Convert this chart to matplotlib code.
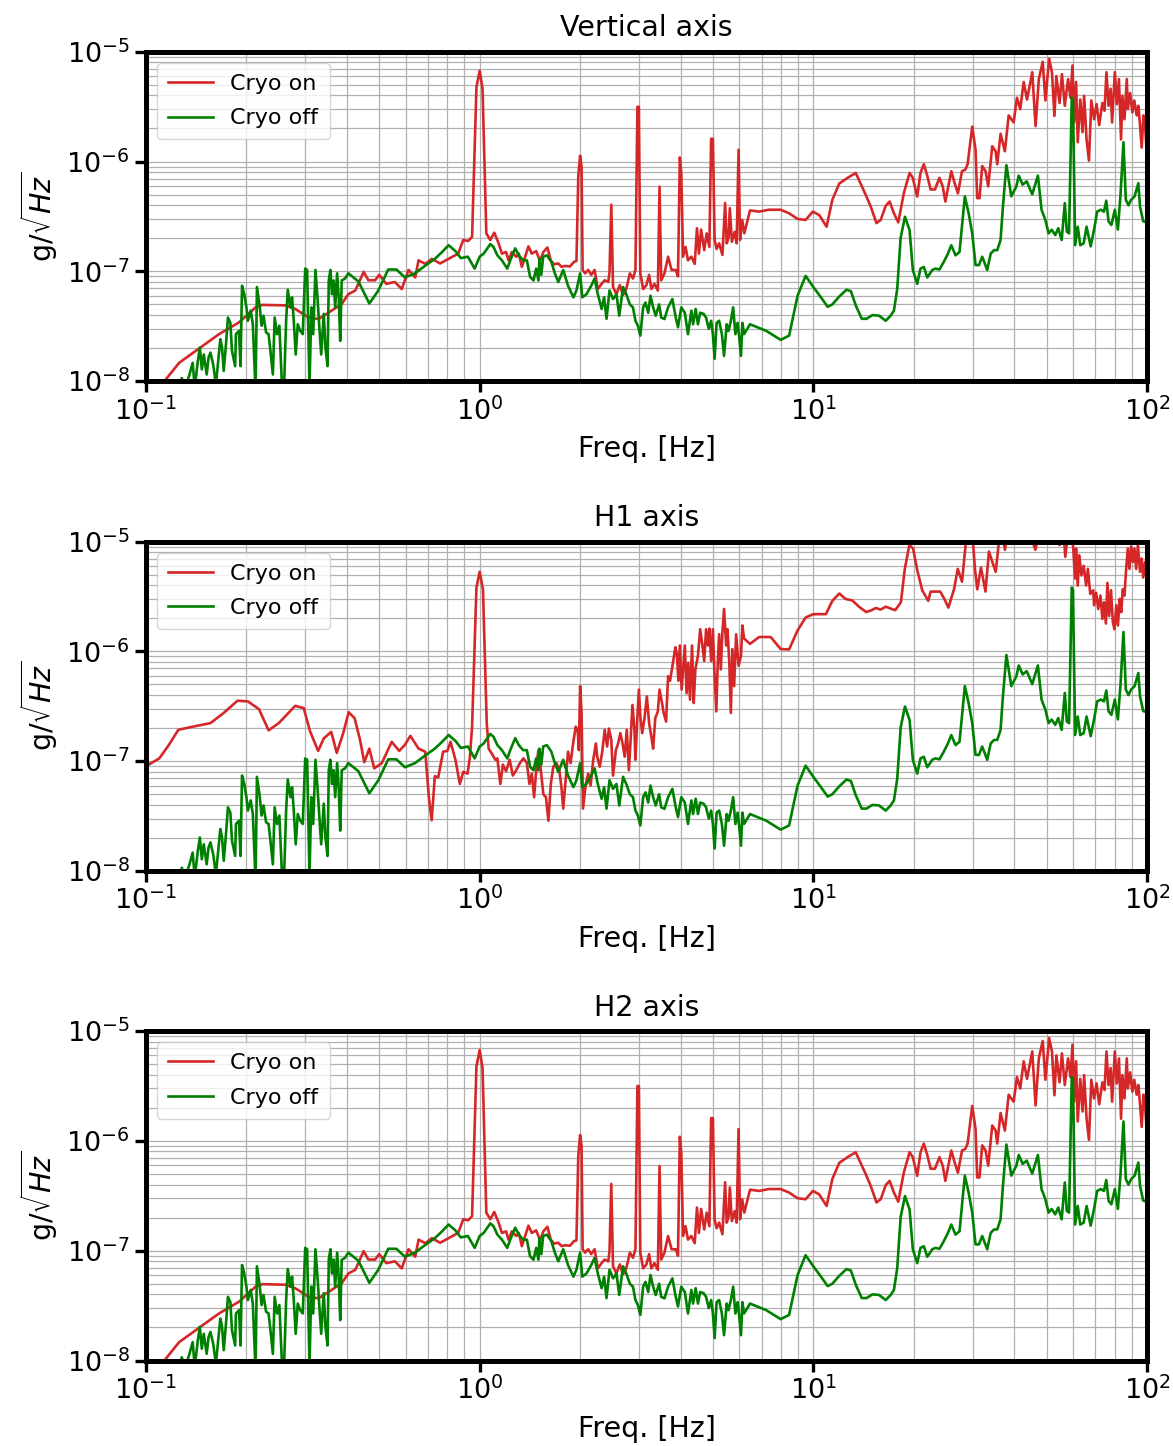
import matplotlib
matplotlib.use("Agg")
import matplotlib.pyplot as plt
import numpy as np

# amplitudes are given in units of 1e-8 g/sqrt(Hz)
AMP_UNIT = 1e-8

titles = ["Vertical axis", "H1 axis", "H2 axis"]
legend_labels = ["Cryo on", "Cryo off"]
x_label = "Freq. [Hz]"
y_label = r"g/$\sqrt{Hz}$"

# ---------------- Vertical axis, cryo on ----------------
vert_on_freq = [0.1, 0.1147, 0.1257, 0.1477, 0.1655, 0.19, 0.213, 0.223, 0.262, 0.28, 0.307, 0.329, 0.36, 0.386,
                0.404, 0.424, 0.449, 0.464, 0.486, 0.50, 0.525, 0.557, 0.584, 0.612, 0.641, 0.656, 0.687, 0.719,
                0.761, 0.807, 0.862, 0.893, 0.923, 0.949, 0.978, 1.0, 1.02, 1.047, 1.076, 1.106, 1.14, 1.166, 1.2,
                1.22, 1.249, 1.287, 1.31, 1.338, 1.369, 1.4, 1.433, 1.477, 1.517, 1.552, 1.596, 1.633, 1.67, 1.72,
                1.76, 1.80, 1.865, 1.917, 1.95, 1.975, 2.0, 2.02, 2.035, 2.07, 2.115, 2.16, 2.21, 2.26, 2.32, 2.37,
                2.43, 2.45, 2.48, 2.51, 2.57, 2.63, 2.69, 2.75, 2.82, 2.88, 2.93, 2.97, 3.0, 3.03, 3.09, 3.16, 3.22,
                3.27, 3.34, 3.42, 3.46, 3.50, 3.58, 3.67, 3.76, 3.87, 3.93, 3.98, 4.02, 4.07, 4.14, 4.21, 4.31, 4.41,
                4.48, 4.54, 4.61, 4.71, 4.79, 4.88, 4.94, 5.0, 5.06, 5.13, 5.22, 5.34, 5.44, 5.5, 5.57, 5.62, 5.70,
                5.81, 5.89, 5.97, 6.03, 6.12, 6.21, 6.46, 6.88, 7.36, 7.98, 8.46, 8.97, 9.48, 9.97, 10.42, 10.96,
                11.4, 11.96, 12.66, 13.4, 14.36, 14.86, 15.46, 15.92, 16.48, 16.93, 17.44, 17.97, 18.68, 19.43,
                19.87, 20.48, 20.95, 21.44, 21.95, 22.46, 23.15, 23.88, 24.42, 24.87, 25.32, 25.91, 26.5, 27.12,
                27.9, 28.55, 29.0, 29.94, 30.63, 30.98, 31.48, 32.07, 32.82, 33.43, 34.37, 35.17, 35.58, 36.4, 37.5,
                38.5, 39.84, 40.76, 41.7, 42.7, 43.7, 45.3, 46.35, 47.4, 48.7, 49.6, 50.9, 51.9, 52.8, 53.5, 54.7,
                55.6, 56.7, 58.0, 59.0, 59.8, 60.5, 61.3, 62.0, 63.1, 64.1, 64.8, 65.9, 67.0, 68.1, 69.4, 70.6, 71.9,
                73.5, 74.6, 75.6, 76.7, 77.8, 78.6, 80.1, 81.2, 82.4, 83.6, 84.4, 85.6, 87.0, 87.6, 89.0, 90.4, 91.6,
                93.1, 94.2, 95.3, 96.4, 97.6, 98.7, 99.6]
vert_on_amp = [0.6, 1.04, 1.47, 2.09, 2.68, 3.43, 4.7, 4.95, 4.9, 4.55, 3.81, 3.68, 4.39, 5.05,
               6.2, 6.7, 9.9, 8.3, 8.3, 9.3, 7.7, 8.0, 6.9, 10.3, 8.8, 12.6, 11.7, 13.0,
               11.8, 13.0, 14.5, 19.3, 18.9, 20.6, 477, 670, 460, 22.2, 19.3, 22.5, 18, 14.5, 15,
               12.6, 15, 13.6, 14.5, 11, 13.6, 16.9, 14.5, 15.3, 12.4, 15, 16.5, 12.6, 11.6, 11.8,
               11, 11.2, 11.1, 12.2, 12.4, 73, 113, 90, 10.3, 9.6, 10.3, 9.3, 10.3, 6.9, 7.7, 8.3,
               8.0, 9.9, 40.5, 7.2, 6.2, 7.5, 6.1, 6.9, 9.6, 8.6, 10.3, 315, 315, 9.6, 6.9, 7.5, 9.3,
               6.9, 7.7, 6.7, 59, 8.3, 9.6, 13.6, 10.3, 10.3, 9.0, 109, 78, 13.6, 16.7, 12.6, 13.6, 11.7,
               24.7, 14.5, 24, 15.6, 22.2, 16.7, 161, 161, 19.3, 16, 18, 14.1, 41.9, 18, 20.2, 37.6, 18.6,
               22.9, 18, 128, 19.3, 29.4, 22.2, 35.9, 35, 36.4, 36.4, 33.8, 30, 29.4, 35, 32.5, 25.5,
               44.8, 63, 71, 78.7, 49.6, 38.9, 27.5, 29.4, 39.5, 43.2, 33.8, 27.9, 51.8, 78.7,
               71, 48, 78.7, 94.5, 74.4, 55.7, 55.7, 71, 59.4, 43.2, 57.1, 81.6, 64, 51.3,
               81.6, 84.4, 94.5, 208, 128, 46.4, 46.4, 91, 81.6, 59.4, 138, 124, 94.5, 179, 124,
               263, 227, 381, 300, 530, 367, 651, 210, 563, 810, 360, 863, 650, 260, 600, 341,
               625, 322, 563, 380, 750, 227, 530, 150, 367, 185, 397, 159, 102, 360, 243, 333, 215,
               341, 290, 651, 322, 460, 227, 651, 333, 563, 159, 397, 243, 563, 300, 420, 280, 360,
               263, 322, 215, 134, 263, 210, 133]

# ---------------- Cryo off (identical in all three panels) ----------------
off_freq = [0.12, 0.126, 0.128, 0.131, 0.135, 0.138, 0.14, 0.143, 0.145, 0.147, 0.149, 0.152, 0.154, 0.156, 0.159,
            0.162, 0.165, 0.167, 0.169, 0.171, 0.174, 0.176, 0.179, 0.181, 0.185, 0.186, 0.190, 0.192, 0.194, 0.197,
            0.20, 0.202, 0.206, 0.209, 0.213, 0.215, 0.219, 0.222, 0.225, 0.229, 0.233, 0.236, 0.24, 0.243, 0.247,
            0.251, 0.255, 0.259, 0.263, 0.266, 0.271, 0.274, 0.277, 0.281, 0.285, 0.29, 0.295, 0.30, 0.304, 0.309,
            0.313, 0.317, 0.322, 0.327, 0.331, 0.335, 0.341, 0.345, 0.35, 0.353, 0.357, 0.361, 0.365, 0.369, 0.374,
            0.378, 0.382, 0.386, 0.395, 0.404, 0.433, 0.467, 0.497, 0.532, 0.563, 0.597, 0.64, 0.685, 0.734, 0.768,
            0.807, 0.846, 0.878, 0.922, 0.966, 1.0, 1.028, 1.076, 1.10, 1.13, 1.166, 1.21, 1.235, 1.278, 1.31, 1.35,
            1.385, 1.416, 1.45, 1.477, 1.50, 1.51, 1.53, 1.55, 1.59, 1.64, 1.68, 1.72, 1.78, 1.84, 1.91, 1.95, 2.0,
            2.03, 2.09, 2.16, 2.21, 2.26, 2.32, 2.36, 2.40, 2.45, 2.51, 2.57, 2.62, 2.69, 2.75, 2.82, 2.88, 2.93,
            2.98, 3.03, 3.09, 3.14, 3.2, 3.25, 3.31, 3.37, 3.45, 3.50, 3.58, 3.67, 3.78, 3.87, 3.93, 4.02, 4.12,
            4.21, 4.31, 4.36, 4.44, 4.51, 4.58, 4.69, 4.77, 4.86, 4.94, 5.0, 5.06, 5.13, 5.22, 5.32, 5.40, 5.50,
            5.57, 5.66, 5.75, 5.84, 5.93, 5.99, 6.07, 6.13, 6.2, 6.46, 7.23, 7.98, 8.46, 8.97, 9.48, 10.0, 10.54,
            11.04, 11.4, 11.96, 12.57, 12.96, 13.4, 13.97, 14.43, 15.04, 15.74, 16.48, 17.05, 17.44, 17.84, 18.27,
            18.82, 19.43, 19.87, 20.48, 20.95, 21.44, 21.95, 22.73, 23.2, 23.88, 24.6, 25.32, 25.91, 26.68, 27.42,
            28.45, 29.2, 29.94, 30.63, 31.35, 32.07, 33.2, 34.0, 34.8, 35.58, 36.4, 37.0, 37.9, 39.2, 40.6, 41.27,
            42.4, 43.6, 45.3, 47.1, 48.3, 49.6, 50.7, 51.8, 53.1, 54.2, 55.5, 56.7, 57.5, 58.4, 59.5, 60.0, 60.9,
            62.0, 63.1, 64.6, 65.9, 67.8, 69.4, 70.9, 72.7, 74.3, 75.5, 76.7, 78.2, 80.1, 81.8, 83.3, 85.0, 86.4,
            88.0, 89.6, 91.8, 94.2, 95.3, 97.4, 99.5]
off_amp = [0.6, 0.87, 1.07, 0.87, 1.15, 1.47, 0.87, 1.53, 2.02, 1.28, 1.75, 1.15, 1.64, 1.82, 1.42,
           0.93, 1.64, 2.41, 2.02, 1.24, 2.33, 3.8, 3.4, 1.89, 1.37, 2.68, 2.87, 1.37, 7.4, 6.2,
           4.7, 3.55, 4.39, 3.3, 0.8, 7.2, 4.9, 3.2, 3.95, 2.78, 2.68, 1.89, 1.15, 3.8, 2.68,
           3.2, 1.07, 0.8, 3.55, 6.8, 4.7, 5.8, 3.7, 1.75, 3.3, 2.87, 2.68, 10.6, 10.3, 0.9,
           4.7, 2.68, 10.3, 5.42, 3.0, 1.75, 4.1, 2.02, 1.37, 8.27, 10.3, 6.2, 8.27, 4.7, 9.6,
           5.8, 2.33, 8.27, 8.6, 9.6, 8.1, 5.1, 6.7, 10.4, 10.4, 8.8, 9.6, 11.2, 13, 14.8,
           17.3, 15.3, 13.2, 13.6, 10.6, 13.6, 14.5, 17.7, 16.7, 14, 12.6, 10.6, 12.6, 16.2, 14, 12.6,
           12.6, 8.9, 8.27, 10.6, 8.27, 13, 9.3, 13.6, 14, 12.2, 9.6, 8.0, 10.3, 7.4, 5.8, 6.7, 9.6,
           5.8, 6.2, 7.4, 8.6, 6.2, 4.55, 5.8, 3.7, 6.7, 5.6, 6.2, 3.95, 7.2, 6.2, 5.0, 4.7, 3.55,
           3.2, 2.6, 4.7, 5.2, 4.2, 6.0, 4.7, 3.95, 5.0, 3.8, 3.68, 4.7, 5.6, 3.8, 3.1, 4.7, 4.2,
           2.68, 4.39, 3.3, 4.55, 3.3, 4.2, 4.1, 3.8, 3.0, 3.55, 2.68, 1.6, 3.4, 3.55, 2.68, 1.7, 3.3,
           2.87, 3.55, 4.7, 2.68, 3.4, 2.6, 1.7, 3.4, 2.68, 3.3, 2.87, 2.38, 2.6, 6.0, 9.1, 7.2, 5.8,
           4.76, 5.0, 5.9, 6.8, 6.6, 4.9, 3.7, 3.7, 4.0, 3.95, 3.55, 3.95, 4.39, 6.9, 20.3,
           31.4, 23.7, 10.3, 7.7, 10.6, 10.96, 8.8, 10.3, 10.6, 10.4, 12.2, 14.5, 17.3, 14, 15,
           48.2, 33.8, 22.2, 11.4, 11.4, 13.6, 10.3, 14.5, 15.6, 15.6, 19.3, 38.9, 92.6, 48.2, 59.4, 74.4,
           61.6, 66, 50.3, 74.4, 36.4, 29.4, 22.2, 23.9, 21.4, 24.7, 19.3, 41.8, 23, 22.2, 381, 360, 17.3,
           25.5, 17.3, 18, 25.5, 16.9, 24, 35, 36.4, 35, 44, 28.5, 26.4, 36.4, 24, 50, 150, 44.8,
           40, 44.8, 48.2, 63.5, 38.9, 28.6, 28]

# ---------------- H1 axis, cryo on ----------------
h1_on_freq = [0.1, 0.1096, 0.117, 0.125, 0.138, 0.156, 0.171, 0.188, 0.202, 0.218, 0.233, 0.25, 0.28, 0.297, 0.31,
              0.328, 0.341, 0.359, 0.373, 0.39, 0.405, 0.422, 0.438, 0.451, 0.467, 0.483, 0.509, 0.545, 0.574,
              0.596, 0.62, 0.656, 0.687, 0.705, 0.718, 0.734, 0.751, 0.777, 0.80, 0.818, 0.846, 0.872, 0.893, 0.92,
              0.935, 0.949, 0.978, 1.0, 1.023, 1.05, 1.064, 1.088, 1.114, 1.13, 1.153, 1.174, 1.2, 1.23, 1.257,
              1.287, 1.32, 1.353, 1.385, 1.41, 1.433, 1.456, 1.483, 1.5, 1.525, 1.552, 1.58, 1.607, 1.634, 1.662,
              1.7, 1.733, 1.76, 1.78, 1.814, 1.84, 1.873, 1.906, 1.94, 1.966, 1.983, 2.0, 2.02, 2.04, 2.08, 2.115,
              2.15, 2.19, 2.23, 2.25, 2.29, 2.33, 2.37, 2.41, 2.44, 2.48, 2.51, 2.56, 2.6, 2.64, 2.68, 2.72, 2.76,
              2.8, 2.83, 2.87, 2.91, 2.93, 2.97, 3.0, 3.03, 3.07, 3.12, 3.17, 3.22, 3.27, 3.31, 3.36, 3.42, 3.46,
              3.52, 3.56, 3.62, 3.67, 3.72, 3.79, 3.86, 3.9, 3.94, 3.98, 4.03, 4.07, 4.12, 4.17, 4.22, 4.27, 4.33,
              4.38, 4.43, 4.51, 4.58, 4.64, 4.71, 4.77, 4.83, 4.88, 4.94, 5.0, 5.05, 5.12, 5.17, 5.22, 5.28, 5.34,
              5.4, 5.48, 5.53, 5.6, 5.66, 5.72, 5.79, 5.87, 5.97, 6.07, 6.13, 6.2, 6.46, 6.88, 7.45, 7.98, 8.46,
              8.97, 9.48, 10.0, 10.9, 11.4, 11.96, 12.5, 13.1, 13.7, 14.4, 14.86, 15.4, 15.9, 16.5, 17.05, 17.6,
              18.3, 18.8, 19.4, 19.9, 20.5, 21.2, 22.1, 22.46, 24.0, 24.7, 25.4, 26.4, 27.1, 27.9, 28.6, 29.1,
              29.9, 30.5, 31.0, 31.8, 32.8, 33.6, 34.4, 35.2, 36.0, 36.8, 37.5, 38.5, 41.3, 44.2, 46.3, 47.4,
              49.6, 51.8, 53.1, 54.7, 56.3, 56.9, 58.0, 59.5, 60.0, 60.9, 61.3, 62.0, 62.7, 63.6, 64.6, 65.7,
              66.5, 67.6, 69.0, 69.4, 70.4, 71.4, 72.5, 73.5, 74.3, 75.3, 76.1, 77.0, 78.0, 79.0, 79.9, 80.9,
              81.8, 82.8, 83.7, 84.6, 85.6, 86.6, 87.6, 88.6, 89.6, 90.7, 91.7, 92.8, 93.9, 95.3, 96.4, 97.4,
              98.7, 99.6]
h1_on_amp = [9.0, 10.6, 14, 19.3, 20.6, 22.2, 27.5, 35.5, 35, 29.8, 19.1, 22.2, 31.9, 30.4, 18.8,
             12.4, 16.1, 18.5, 11.9, 18, 27.9, 24.6, 15.6, 9.8, 13, 8.6, 9.6, 15, 12.4,
             14, 17, 13, 12.2, 4.55, 2.9, 7.3, 7.1, 12.2, 12.4, 15, 10.3, 6.2, 8, 7.7,
             11, 20.6, 381, 530, 367, 22.2, 13, 11.7, 10.3, 10.6, 6.2, 9.3, 8.1, 10.3, 7.4,
             8.27, 9.6, 10.6, 9.6, 6.2, 7.7, 4.7, 9.6, 12.6, 8.27, 5.0, 4.7, 2.87, 6.2, 8.9,
             9.6, 8.27, 5.6, 3.7, 7.2, 12.2, 9.6, 14.5, 20.6, 19.3, 12.6, 48.2, 27.5, 3.7, 6.2, 7.7,
             6.0, 10.3, 14.5, 11, 8.9, 12.2, 19.3, 13.6, 19.8, 15.6, 7.4, 12.6, 14.5, 18, 14.5, 11, 19.3,
             8.27, 14.5, 32.5, 19.3, 10.3, 25.5, 44.8, 25.5, 18, 24.7, 38.9, 22.2, 16.7, 13, 24.7, 28.4, 44.8,
             33.8, 27.5, 22.9, 59.4, 54, 76.4, 109, 94.5, 54, 113, 44.8, 68.4, 113, 41.5, 78.7, 36.3, 113,
             33.8, 68.4, 91, 159, 120, 81.6, 159, 113, 161, 81.6, 159, 68.4, 28.4, 78.7, 143, 68.4, 150,
             243, 113, 159, 78.7, 27.5, 105, 48.2, 143, 74, 91, 172, 131, 117, 135, 135, 105, 104,
             155, 203, 218, 218, 288, 336, 300, 290, 255, 228, 235, 248, 240, 255, 245, 237,
             280, 563, 930, 863, 544, 360, 288, 350, 350, 300, 250, 367, 563, 430, 930, 1200,
             1300, 563, 367, 580, 350, 810, 650, 530, 1000, 1300, 840, 1300, 1520, 1240, 840, 1240,
             1600, 965, 1400, 930, 1150, 725, 1240, 1400, 930, 460, 863, 397, 750, 491, 600, 397,
             563, 333, 360, 263, 341, 243, 322, 197, 280, 179, 420, 210, 360, 185, 159, 263,
             172, 300, 227, 367, 322, 563, 863, 563, 900, 651, 863, 563, 930, 530, 700, 470,
             650, 450]

# ---------------- H2 axis, cryo on (same record as vertical in the source) ----------------
h2_on_freq = vert_on_freq
h2_on_amp = vert_on_amp

panels = [
    (titles[0], vert_on_freq, vert_on_amp),
    (titles[1], h1_on_freq, h1_on_amp),
    (titles[2], h2_on_freq, h2_on_amp),
]

W, H = 1173, 1446
fig = plt.figure(figsize=(W / 100, H / 100), dpi=100)
ax_left, ax_right = 146, 1147
tops = [51.7, 541.5, 1031.0]
ax_h = 329.5

for (title, f_on, a_on), top in zip(panels, tops):
    ax = fig.add_axes([ax_left / W, 1 - (top + ax_h) / H, (ax_right - ax_left) / W, ax_h / H])
    ax.loglog(f_on, np.array(a_on) * AMP_UNIT, color="#d62728", lw=1.9, label=legend_labels[0])
    ax.loglog(off_freq, np.array(off_amp) * AMP_UNIT, color="green", lw=1.9, label=legend_labels[1])
    ax.set_xlim(0.1, 100)
    ax.set_ylim(1e-8, 1e-5)
    ax.grid(True, which="both", color="#b0b0b0", lw=0.9)
    ax.set_axisbelow(True)
    for s in ax.spines.values():
        s.set_linewidth(3.6)
    ax.tick_params(which="major", length=8, width=2.4, labelsize=19.5)
    ax.tick_params(which="minor", length=0, width=0)
    ax.set_title(title, fontsize=20.5, pad=11)
    ax.set_xlabel(x_label, fontsize=20.5, labelpad=7)
    ax.set_ylabel(y_label, fontsize=20.5, labelpad=5)
    ax.legend(loc="upper left", fontsize=16, framealpha=0.8, borderaxespad=0.5,
              labelspacing=0.65, borderpad=0.5)

fig.savefig("out.png", dpi=100)
